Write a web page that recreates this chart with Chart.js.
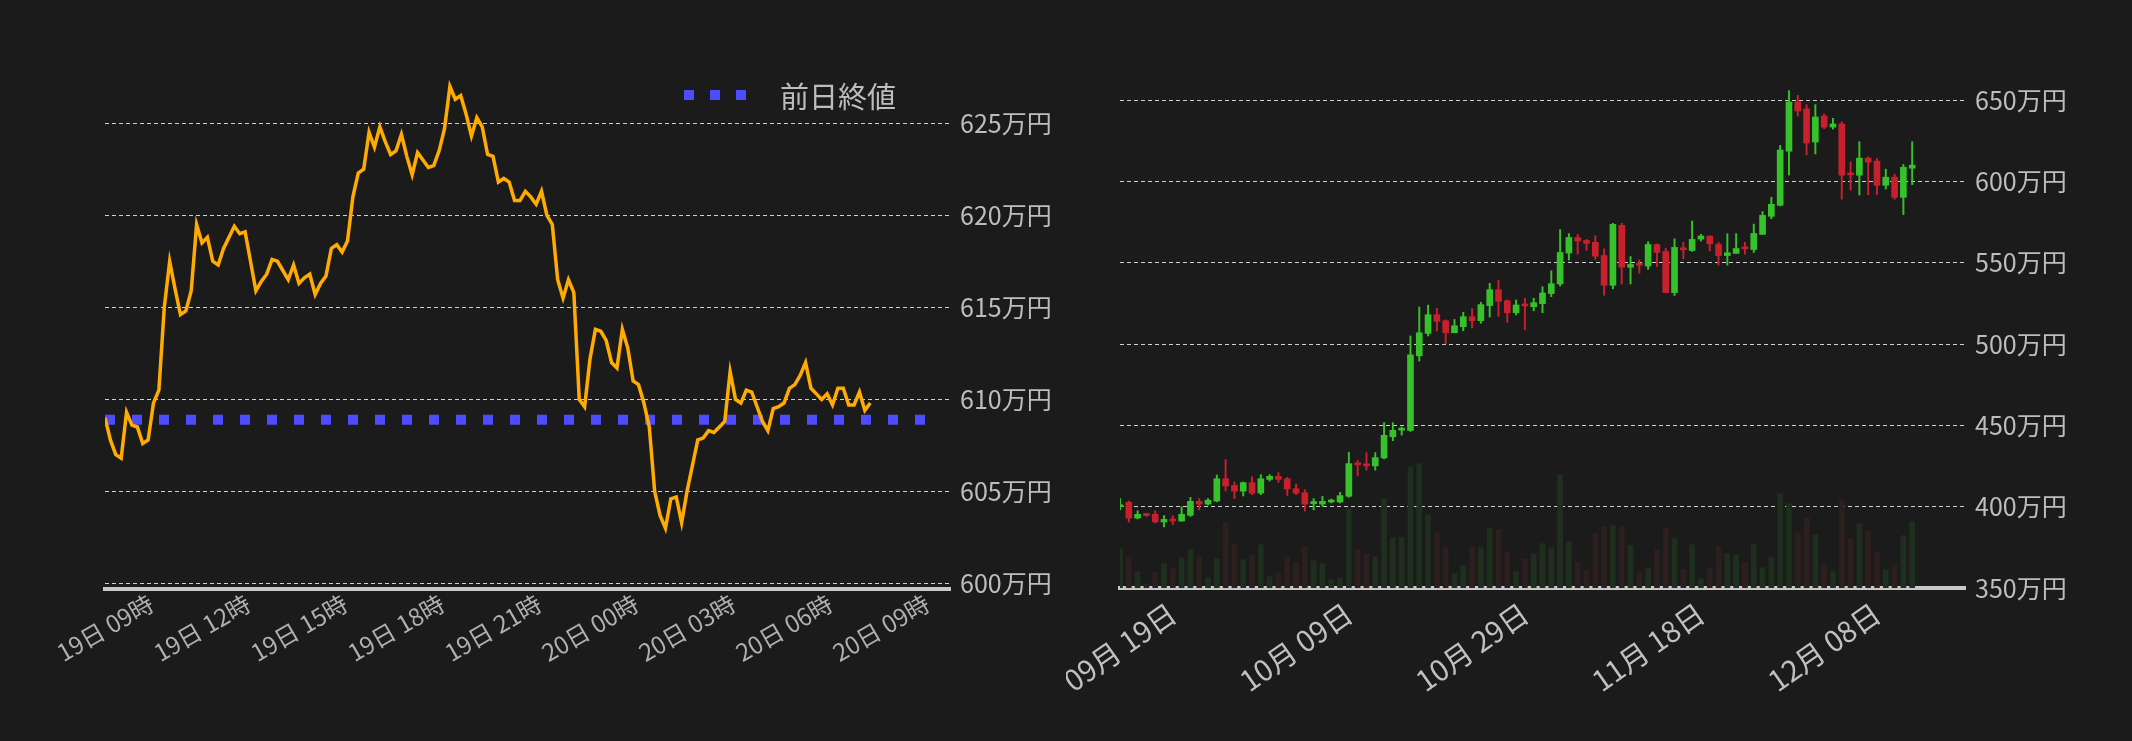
<!DOCTYPE html>
<html><head><meta charset="utf-8">
<script src="https://cdn.jsdelivr.net/npm/chart.js@4.4.1/dist/chart.umd.min.js"></script>
<style>
html,body{margin:0;padding:0;background:#1b1b1b;width:2132px;height:741px;overflow:hidden;font-family:"Noto Sans CJK JP",sans-serif}
.box{position:absolute;top:0;width:1066px;height:741px}
#legend{position:absolute;left:684px;top:74px;color:#bdbdbd;font-size:29px;display:flex;align-items:center;font-family:"Noto Sans CJK JP"}
#legend span.sq{display:inline-block;width:10px;height:10px;background:#4d4dff;margin-right:16px}
</style></head><body>
<div class="box" style="left:0"><canvas id="c1"></canvas></div>
<div class="box" style="left:1066px"><canvas id="c2"></canvas></div>
<div id="legend"><span class="sq"></span><span class="sq"></span><span class="sq"></span><span style="margin-left:18px">前日終値</span></div>
<script>
// ---- intraday (left) ----
const stepMinutes = 10;
const prices = [609.0,607.8,607.0,606.8,609.3,608.6,608.5,607.6,607.8,609.8,610.5,615.0,617.5,616.0,614.6,614.8,615.9,619.5,618.5,618.8,617.5,617.3,618.2,618.8,619.4,619.0,619.1,617.5,615.9,616.4,616.8,617.6,617.5,617.0,616.5,617.3,616.3,616.6,616.8,615.7,616.3,616.7,618.2,618.4,618.0,618.6,621.0,622.3,622.5,624.5,623.7,624.8,624.0,623.3,623.5,624.4,623.2,622.2,623.4,623.0,622.6,622.7,623.5,624.7,627.0,626.3,626.5,625.5,624.3,625.3,624.8,623.3,623.2,621.8,622.0,621.8,620.8,620.8,621.3,621.0,620.6,621.3,620.0,619.5,616.5,615.5,616.5,615.8,610.0,609.6,612.2,613.8,613.7,613.2,612.0,611.7,613.8,612.8,611.0,610.8,609.8,608.5,605.0,603.7,603.0,604.6,604.7,603.3,605.0,606.4,607.8,607.9,608.3,608.2,608.5,608.8,611.5,610.0,609.8,610.5,610.4,609.6,608.8,608.3,609.5,609.6,609.8,610.6,610.8,611.3,612.0,610.6,610.3,610.0,610.3,609.7,610.6,610.6,609.7,609.7,610.4,609.4,609.8];
const prevClose = 608.9;
const prevCloseSpan = [0, 1540];
const leftTickStep = 180;

// ---- daily candles (right) ----
const startDate = [2024, 9, 19];
const opens  = [400,402.7,393,395.3,395.3,390.6,392.2,391.2,394.7,403.3,401.6,403.5,417.2,413.1,409.6,414.8,408.4,416.8,418.7,417.2,411.1,408.6,401.9,401.6,402.9,402.9,406.4,426.7,426.1,425.1,430,443,447.1,446.9,492.8,506.6,518.1,514.4,507,510.7,516.9,514.4,523.7,533.5,526.7,519.3,523.9,523,524.9,531.1,537,556,565.6,563.8,562.6,554.5,536.2,573.1,547.3,549,548,561.3,557,531.7,558.6,557.6,564.6,566.5,561.3,554.5,555.8,558.8,558.2,567.5,578.6,585.4,618.7,649,644.7,624.3,640.3,633.5,635.4,604.5,603.9,614.4,612.6,597.7,602.7,590.3,608.2];
const closes = [401,393,395.3,394.6,390.6,392.2,391.2,395.3,403.3,401.6,404,417.2,412.7,409.6,414.8,408.4,417.2,418.7,416.8,410.9,408.4,401.6,402.3,403.3,403.3,406.8,426.5,425.7,425.1,430.2,443.9,447,447.5,493.4,507,518.1,514,507,511.3,516.9,514.4,524.3,533.5,526.3,519.3,524.1,523.5,525.5,531.5,537.2,556.4,565.6,563.4,562,554.1,536.2,573.7,547.3,549,548.5,561.3,556.4,531.7,559.5,558,564.4,566.5,561.7,554.5,556.2,558.8,558.6,568.1,579.2,586,619.4,649,643.4,623.7,639.7,633.5,635.4,603.9,604.1,614.4,611.9,597.7,602.7,590.3,608.8,610.1];
const highs  = [405,403.5,397.5,396,397.5,394.5,394.5,400,405.8,405,405,419.5,429,415.2,415.2,418.5,419.7,419.7,421,418,414,410.5,405,406.4,404.7,408.8,433.5,428.4,433.3,433.3,451.7,451.7,449,505,522.8,524,522,515,515.2,519.6,521.8,525.7,537.4,539.3,527.2,527.2,528.2,528.2,535.3,545.1,570.4,568,567.5,564.4,566.7,558.6,574.3,574.3,553.9,551.9,563,561.7,559,564.8,562.6,575.7,567.5,566.5,562.6,567.9,568,562.6,573.8,581.5,590.3,622.2,655.9,653,647.3,647.3,641.6,638.9,636.8,612.1,624.5,615.2,614.2,607.6,604.5,610.5,624.5];
const lows   = [398,390.5,392.5,394,390,387.5,389,391,394,398,401,403,409.6,405,406.6,407.4,407.4,415.8,415,407,407.4,397.3,398,400.2,402.3,402.3,405.8,418.9,422.5,422.5,429.4,440.6,444,446.3,489.6,505,508,500.2,507,508.2,510,512.9,516.7,517.1,513.3,518,508.8,520.5,519.3,529.2,535.7,551.7,555.3,557.6,552.1,530,534,537,537,543.6,546,547.7,531.7,529.9,552.4,557,563.4,557.4,548.6,548.6,556,555.3,556.4,567.5,577.1,585,604,640.3,616.4,617,632.5,632.3,589.2,594.7,591.7,591.9,592,595.4,589.1,579.7,598.1];
const volumes= [118,94,49,12,46,73,58,91,115,94,31,88,196,133,85,100,130,34,46,94,76,124,82,73,25,31,238,115,103,94,268,151,151,364,373,220,166,121,43,67,124,121,178,175,109,49,88,103,133,121,340,139,76,52,163,184,187,184,127,49,58,115,181,148,55,130,28,58,124,103,100,76,130,61,91,283,253,166,211,160,70,49,265,148,193,172,109,55,70,157,199];
const totalDays = 97;
const dateTickEvery = 20;

// ----------------------------------
const FONT='"Noto Sans CJK JP"';
const grid = {color:'#d0d0d0', lineWidth:1, drawTicks:false};
const yBorder = {display:false, dash:[4,3]};
function fixW(w){return s=>{s.width=w;};}
function fixH(h){return s=>{s.height=h;s.paddingLeft=0;s.paddingRight=0;};}

function centredLabels(cfg){
  return {id:'cl',afterDraw(chart){
    const sc=chart.scales.x, ctx=chart.ctx;
    ctx.save();ctx.fillStyle=cfg.color;ctx.font=cfg.size+'px '+FONT;ctx.textAlign='center';ctx.textBaseline='middle';
    sc.ticks.forEach((t,i)=>{
      const txt=cfg.text(t,i,sc); if(!txt) return;
      const x=cfg.pix(t,i,sc);
      ctx.save();ctx.translate(x,sc.top+cfg.dy);ctx.rotate(-cfg.rot*Math.PI/180);ctx.fillText(txt,0,0);ctx.restore();
    });
    ctx.restore();
  }};
}

const pts = prices.map((p,i)=>({x:i*stepMinutes,y:p}));
function hourLabel(v){const h=9+v/60;const d=19+Math.floor(h/24);const hh=h%24;return d+'日 '+String(hh).padStart(2,'0')+'時';}
new Chart(document.getElementById('c1'),{
  type:'line',
  data:{datasets:[
    {data:pts,borderColor:'#ffab00',borderWidth:3.5,pointRadius:0,tension:0,order:1},
    {data:prevCloseSpan.map(x=>({x,y:prevClose})),borderColor:'#4d4dff',borderWidth:10,borderDash:[10,17],borderCapStyle:'butt',pointRadius:0,order:2}
  ]},
  options:{responsive:true,maintainAspectRatio:false,animation:false,
    layout:{padding:{left:105,top:68,right:0,bottom:0}},
    plugins:{legend:{display:false},tooltip:{enabled:false}},
    scales:{
      x:{type:'linear',min:0,max:1568,
        afterBuildTicks:s=>{s.ticks=s.ticks.filter(t=>t.value%leftTickStep===0&&t.value<=1440);},
        ticks:{stepSize:leftTickStep,display:false},
        grid:{display:false},border:{display:true,color:'#c8c8c8',width:4},afterFit:fixH(152)},
      y:{position:'right',min:599.7,max:628,
        afterBuildTicks:s=>{s.ticks=[600,605,610,615,620,625].map(v=>({value:v}));},
        ticks:{color:'#bdbdbd',font:{size:25,family:FONT},padding:10,callback:v=>v+'万円'},
        grid:grid,border:yBorder,afterFit:fixW(116)}
    }},
  plugins:[centredLabels({color:'#b0b0b0',size:24,rot:30,dy:39,text:t=>hourLabel(t.value),pix:(t,i,s)=>s.getPixelForValue(t.value)})]
});

const labels=[];
for(let i=0;i<totalDays;i++){const d=new Date(startDate[0],startDate[1]-1,startDate[2]+i);labels.push(String(d.getMonth()+1).padStart(2,'0')+'月 '+String(d.getDate()).padStart(2,'0')+'日');}
const up = opens.map((o,i)=>closes[i]>=o);
const GREEN='#36c22a', RED='#c8202c';
new Chart(document.getElementById('c2'),{
  type:'bar',
  data:{labels,datasets:[
    {data:opens.map((o,i)=>[o,closes[i]]),backgroundColor:up.map(u=>u?GREEN:RED),barThickness:6,minBarLength:2,grouped:false,order:1,yAxisID:'y'},
    {data:lows.map((l,i)=>[l,highs[i]]),backgroundColor:up.map(u=>u?GREEN:RED),barThickness:1.3,grouped:false,order:2,yAxisID:'y'},
    {data:volumes,backgroundColor:up.map(u=>u?'#1f2f1e':'#2e1f1f'),barThickness:5,grouped:false,order:3,yAxisID:'v'}
  ]},
  options:{responsive:true,maintainAspectRatio:false,animation:false,
    layout:{padding:{left:54,top:84,right:0,bottom:0}},
    plugins:{legend:{display:false},tooltip:{enabled:false}},
    scales:{
      x:{offset:false,grid:{display:false},border:{display:true,color:'#c8c8c8',width:4},
        ticks:{autoSkip:false,display:false},afterFit:fixH(153)},
      y:{position:'right',min:350,max:660,
        afterBuildTicks:s=>{s.ticks=[350,400,450,500,550,600,650].map(v=>({value:v}));},
        ticks:{color:'#bdbdbd',font:{size:25,family:FONT},padding:10,callback:v=>v+'万円'},
        grid:grid,border:yBorder,afterFit:fixW(167)},
      v:{display:false,min:0,max:1513}
    }},
  plugins:[centredLabels({color:'#c0c0c0',size:29,rot:35,dy:59,text:(t,i)=>i%dateTickEvery===0?labels[i]:'',pix:(t,i,s)=>s.getPixelForValue(i)})]
});
</script></body></html>
